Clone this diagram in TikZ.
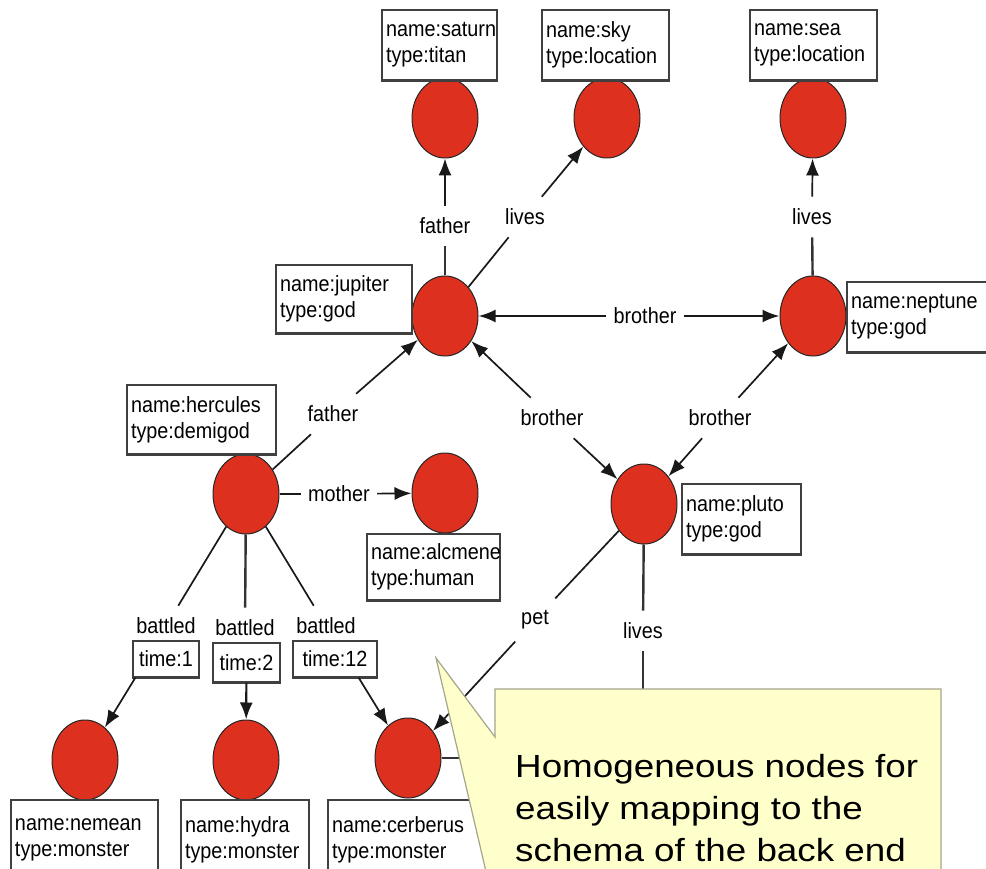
\documentclass[tikz,border=0pt]{standalone}
\usepackage{fontspec}
\setmainfont{Liberation Sans}
\usetikzlibrary{shapes.geometric,arrows.meta}
\definecolor{entred}{RGB}{222,48,30}
\definecolor{callyel}{RGB}{255,255,204}
\definecolor{callbrd}{RGB}{165,165,140}
\newcommand{\bx}[1]{\scalebox{0.9}[1]{#1}}
\newcommand{\cw}[1]{\scalebox{1.15}[1]{#1}}
\begin{document}
\begin{tikzpicture}[x=1pt,y=-1pt,
  ent/.style={ellipse, draw=black!85, line width=1pt, fill=entred, minimum width=66pt, minimum height=80pt, inner sep=0pt},
  attr/.style={draw=black!75, line width=1.2pt, fill=white, align=left, font=\fontsize{22}{26}\selectfont, inner xsep=4pt, inner ysep=0pt},
  boxbottom/.style={draw=black!75, line width=2.6pt},
  lbl/.style={font=\fontsize{22}{26}\selectfont, inner xsep=7pt, inner ysep=12pt},
  ln/.style={line width=1.7pt, draw=black!90},
  arr/.style={ln, -{Latex[length=17pt,width=13pt]}},
  vln/.style={line width=2.4pt, draw=black!80},
  callout/.style={fill=callyel, draw=callbrd, line width=1.2pt}]
\useasboundingbox (0,0) rectangle (986,869);
\clip (0,0) rectangle (986,869);

% entity nodes
\node[ent] (sat) at (445,118) {};
\node[ent] (sky) at (607,118) {};
\node[ent] (sea) at (813,118) {};
\node[ent] (jup) at (445,316) {};
\node[ent] (nep) at (813,316) {};
\node[ent] (her) at (246,494) {};
\node[ent] (alc) at (445,493) {};
\node[ent] (plu) at (644,504) {};
\node[ent] (nem) at (85,760) {};
\node[ent] (hyd) at (246,760) {};
\node[ent] (cer) at (408,758) {};
\coordinate (under) at (643,758);

% attribute boxes
\node[attr, minimum width=115pt, text width=107pt, minimum height=70pt] (satb) at (439.5,45) {\bx{name:saturn}\\\bx{type:titan}};
\node[attr, minimum width=127pt, text width=119pt, minimum height=70pt] (skyb) at (605.5,45) {\bx{name:sky}\\\bx{type:location}};
\node[attr, minimum width=127pt, text width=119pt, minimum height=70pt] (seab) at (813.5,45) {\bx{name:sea}\\\bx{type:location}};
\node[attr, minimum width=136pt, text width=128pt, minimum height=68pt] (jupb) at (344,299) {\bx{name:jupiter}\\\bx{type:god}};
\node[attr, minimum width=143pt, text width=135pt, minimum height=70pt] (nepb) at (918.5,317) {\bx{name:neptune}\\\bx{type:god}};
\node[attr, minimum width=149pt, text width=141pt, minimum height=69pt] (herb) at (201.5,419.5) {\bx{name:hercules}\\\bx{type:demigod}};
\node[attr, minimum width=133pt, text width=125pt, minimum height=66pt] (alcb) at (433.5,567) {\bx{name:alcmene}\\\bx{type:human}};
\node[attr, minimum width=119pt, text width=111pt, minimum height=70pt] (plub) at (741.5,519) {\bx{name:pluto}\\\bx{type:god}};
\node[attr, minimum width=147pt, text width=139pt, minimum height=80pt] (nemb) at (84.5,840) {\bx{name:nemean}\\\bx{type:monster}};
\node[attr, minimum width=128pt, text width=120pt, minimum height=80pt] (hydb) at (245,840) {\bx{name:hydra}\\\bx{type:monster}};
\node[attr, minimum width=159pt, text width=151pt, minimum height=80pt] (cerb) at (407.5,840) {\bx{name:cerberus}\\\bx{type:monster}};
\node[attr, minimum width=66pt, minimum height=36pt, inner xsep=2pt] (t1) at (166,659) {\bx{time:1}};
\node[attr, minimum width=67pt, minimum height=39pt, inner xsep=2pt] (t2) at (246.5,662.5) {\bx{time:2}};
\node[attr, minimum width=84pt, minimum height=36pt, inner xsep=2pt] (t12) at (335,659) {\bx{time:12}};
\foreach \b in {satb,skyb,seab,jupb,nepb,herb,alcb,plub,t1,t2,t12}
  \draw[boxbottom] (\b.south west) -- (\b.south east);

% edge labels
\node[lbl] (lf1) at (445,226) {\bx{father}};
\node[lbl] (ll1) at (525,217) {\bx{lives}};
\node[lbl] (ll2) at (812,217) {\bx{lives}};
\node[lbl] (lb1) at (645,316) {\bx{brother}};
\node[lbl] (lf2) at (333,414) {\bx{father}};
\node[lbl] (lb2) at (552,418) {\bx{brother}};
\node[lbl] (lb3) at (720,418) {\bx{brother}};
\node[lbl] (lm) at (339,494) {\bx{mother}};
\node[lbl] (lp) at (535,620) {\bx{pet}};
\node[lbl] (ll3) at (643,631) {\bx{lives}};
\node[lbl] (bt1) at (166,626) {\bx{battled}};
\node[lbl] (bt2) at (245,628) {\bx{battled}};
\node[lbl] (bt3) at (326,626) {\bx{battled}};

% connectors
\draw[vln] (jup) -- (lf1);
\draw[arr] (lf1) -- (sat);
\draw[ln] (jup) -- (ll1);
\draw[arr] (ll1) -- (sky);
\draw[vln] (nep) -- (ll2);
\draw[arr] (ll2) -- (sea);
\draw[arr, line width=2.2pt] (lb1) -- (jup);
\draw[arr, line width=2.2pt] (lb1) -- (nep);
\draw[ln] (her) -- (lf2);
\draw[arr] (lf2) -- (jup);
\draw[arr] (lb2) -- (jup);
\draw[arr] (lb2) -- (plu);
\draw[arr] (lb3) -- (nep);
\draw[arr] (lb3) -- (plu);
\draw[ln] (her) -- (lm);
\draw[arr] (lm) -- (alc);
\draw[ln] (plu) -- (lp);
\draw[arr] (lp) -- (cer);
\draw[vln] (plu) -- (ll3);
\draw[vln] (ll3) -- (under);
\draw[vln] (cer) -- (under);
\draw[ln] (her) -- (bt1);
\draw[vln] (her) -- (bt2);
\draw[ln] (her) -- (bt3);
\draw[arr] ([xshift=3pt]t1.south west) -- (nem);
\draw[arr, line width=2.2pt] (t2) -- (hyd);
\draw[arr] ([xshift=-19pt]t12.south east) -- (cer);

% callout
\draw[callout] (495,689) -- (941,689) -- (941,930) -- (495,930) -- (495,910) -- (436,658) -- (495,737) -- cycle;
\node[anchor=north west, inner sep=0pt, align=left, font=\fontsize{32}{42}\selectfont] (note) at (515,754)
  {\cw{Homogeneous nodes for}\\\cw{easily mapping to the}\\\cw{schema of the back end}};
\end{tikzpicture}
\end{document}
